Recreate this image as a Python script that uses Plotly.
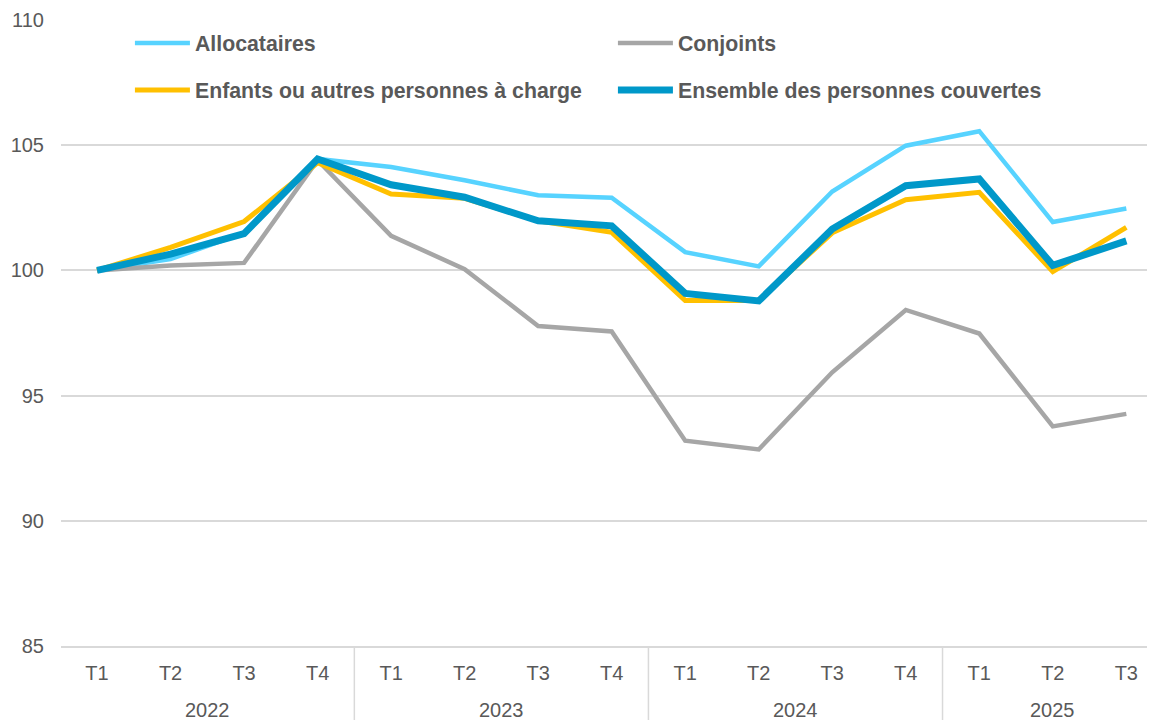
import plotly.graph_objects as go

years = ["2022"] * 4 + ["2023"] * 4 + ["2024"] * 4 + ["2025"] * 3
quarters = ["T1", "T2", "T3", "T4"] * 3 + ["T1", "T2", "T3"]

allocataires = [100, 100.45, 101.5, 104.45, 104.13, 103.6, 103.0, 102.9,
                100.73, 100.16, 103.15, 104.98, 105.56, 101.93, 102.47]
conjoints = [100, 100.2, 100.3, 104.4, 101.38, 100.05, 97.78, 97.56,
             93.2, 92.85, 95.93, 98.42, 97.48, 93.77, 94.27]
enfants = [100, 100.92, 101.95, 104.3, 103.05, 102.88, 101.98, 101.52,
           98.8, 98.8, 101.5, 102.82, 103.12, 99.95, 101.72]
ensemble = [100, 100.65, 101.47, 104.45, 103.42, 102.92, 101.98, 101.78,
            99.08, 98.78, 101.65, 103.38, 103.65, 100.2, 101.18]

series = [
    ("Allocataires", allocataires, "#57D3FF", 4.5, "legend"),
    ("Conjoints", conjoints, "#A6A6A6", 4.5, "legend"),
    ("Enfants ou autres personnes à charge", enfants, "#FFC000", 5, "legend2"),
    ("Ensemble des personnes couvertes", ensemble, "#0098C9", 7, "legend2"),
]

idx = list(range(len(quarters)))
grey = "#595959"
grid = "#D9D9D9"

fig = go.Figure()
for name, vals, color, width, leg in series:
    fig.add_trace(go.Scatter(
        x=idx,
        y=vals,
        name=name,
        mode="lines",
        line=dict(color=color, width=width),
        legend=leg,
    ))

# year labels and group separators below the axis
groups = []
for i, yr in enumerate(years):
    if not groups or groups[-1][0] != yr:
        groups.append([yr, i, i])
    else:
        groups[-1][2] = i

for yr, first, last in groups:
    fig.add_annotation(
        x=(first + last) / 2, xref="x",
        y=-0.102, yref="paper", yanchor="middle",
        text=yr, showarrow=False,
        font=dict(size=20, color=grey),
    )
    fig.add_shape(
        type="line", xref="x", yref="paper",
        x0=first - 0.5, x1=first - 0.5, y0=0, y1=-0.14,
        line=dict(color=grid, width=1.5),
    )

legend_style = dict(
    orientation="h",
    xanchor="left",
    yanchor="middle",
    x=0.063,
    entrywidth=413,
    itemwidth=55,
    bgcolor="rgba(0,0,0,0)",
    font=dict(family="Liberation Sans, Arial", size=21.3, color=grey, weight="bold"),
)

fig.update_layout(
    width=1147,
    height=712,
    paper_bgcolor="white",
    plot_bgcolor="white",
    margin=dict(l=53, r=0, t=12, b=74),
    font=dict(family="Liberation Sans, Arial", size=20, color=grey),
    legend=dict(legend_style, y=0.963),
    legend2=dict(legend_style, y=0.888),
    showlegend=True,
)

fig.update_yaxes(
    range=[85, 110],
    dtick=5,
    showgrid=True,
    gridcolor=grid,
    gridwidth=1.5,
    zeroline=False,
    ticklabelstandoff=16,
    tickfont=dict(size=20, color=grey),
)

fig.update_xaxes(
    range=[-0.49, 14.39],
    tickvals=idx,
    ticktext=quarters,
    showgrid=False,
    zeroline=False,
    showline=True,
    linecolor=grid,
    linewidth=1.5,
    ticklabelstandoff=8,
    tickfont=dict(size=20, color=grey),
)

fig.write_html("out.html")
